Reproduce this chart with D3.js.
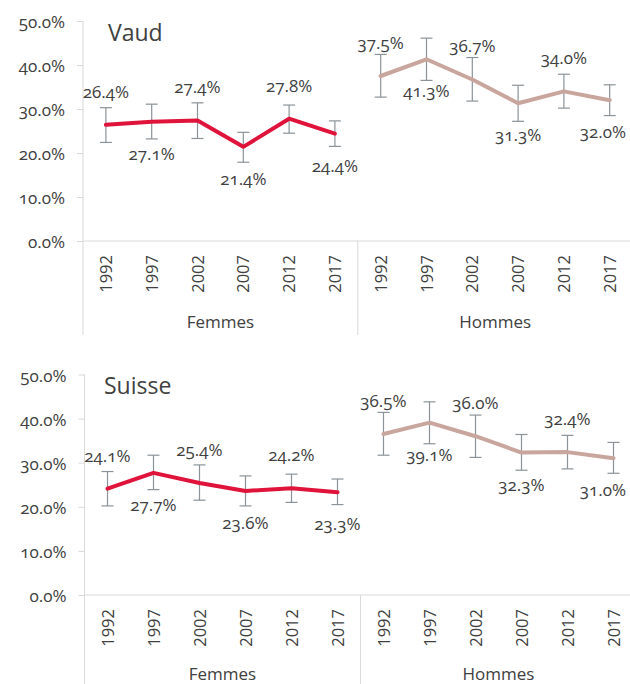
<!DOCTYPE html>
<html>
<head>
<meta charset="utf-8">
<script src="https://cdn.jsdelivr.net/npm/d3@7"></script>
<style>
  body { margin: 0; background: #fff; }
  svg text { font-family: "Open Sans", sans-serif; fill: #404040; font-feature-settings: "onum"; }
</style>
</head>
<body>
<script>
// categories
const groups = ["Femmes", "Hommes"];
const years = ["1992", "1997", "2002", "2007", "2012", "2017"];
const yTicks = [0, 10, 20, 30, 40, 50];

// Vaud
const vaudFemmes = [26.4, 27.1, 27.4, 21.4, 27.8, 24.4];
const vaudFemmesLo = [22.4, 23.2, 23.3, 17.9, 24.5, 21.5];
const vaudFemmesHi = [30.3, 31.1, 31.4, 24.7, 30.9, 27.3];
const vaudHommes = [37.5, 41.3, 36.7, 31.3, 34.0, 32.0];
const vaudHommesLo = [32.7, 36.5, 31.8, 27.2, 30.2, 28.5];
const vaudHommesHi = [42.4, 46.1, 41.7, 35.4, 37.9, 35.5];

// Suisse
const suisseFemmes = [24.1, 27.7, 25.4, 23.6, 24.2, 23.3];
const suisseFemmesLo = [20.2, 23.9, 21.5, 20.2, 21.0, 20.5];
const suisseFemmesHi = [28.0, 31.7, 29.5, 27.0, 27.4, 26.3];
const suisseHommes = [36.5, 39.1, 36.0, 32.3, 32.4, 31.0];
const suisseHommesLo = [31.7, 34.3, 31.2, 28.3, 28.6, 27.6];
const suisseHommesHi = [41.4, 43.8, 40.8, 36.4, 36.2, 34.6];

const colors = { Femmes: "#e0133b", Hommes: "#c9a69d" };

const w = 630, h = 684;
const svg = d3.select("body").append("svg").attr("width", w).attr("height", h);

function series(vals, lo, hi) {
  return vals.map((v, i) => ({ year: years[i], v: v, lo: lo[i], hi: hi[i] }));
}

const panels = [
  { title: "Vaud", top: 21, bottom: 241, x0: 83, x1: 632.6, axisEnd: 335, titleX: 108, titleY: 41, grpDy: 87,
    data: { Femmes: series(vaudFemmes, vaudFemmesLo, vaudFemmesHi), Hommes: series(vaudHommes, vaudHommesLo, vaudHommesHi) } },
  { title: "Suisse", top: 374.5, bottom: 595, x0: 84.5, x1: 636.5, axisEnd: 684, titleX: 104, titleY: 394, grpDy: 85,
    data: { Femmes: series(suisseFemmes, suisseFemmesLo, suisseFemmesHi), Hommes: series(suisseHommes, suisseHommesLo, suisseHommesHi) } }
];

panels.forEach(p => {
  const g = svg.append("g");

  const y = d3.scaleLinear().domain([0, 50]).range([p.bottom, p.top]);
  const xGroup = d3.scaleBand().domain(groups).range([p.x0, p.x1]);
  const x = d3.scaleBand().domain(years).range([0, xGroup.bandwidth()]);

  // y axis
  const yAxis = d3.axisLeft(y).tickValues(yTicks).tickSize(6).tickPadding(12)
    .tickFormat(d => d3.format(".1f")(d) + "%");
  const ya = g.append("g").attr("transform", "translate(" + p.x0 + ",0)").call(yAxis);
  ya.select(".domain").remove();
  ya.selectAll("line").attr("stroke", "#d9d9d9");
  ya.selectAll("text").style("font-size", "17px").style("fill", "#404040").attr("dy", "0.4em");
  g.append("line").attr("x1", p.x0).attr("x2", p.x0).attr("y1", p.top).attr("y2", p.axisEnd)
    .attr("stroke", "#d9d9d9");

  // x axis line
  g.append("line").attr("x1", p.x0).attr("x2", w).attr("y1", p.bottom).attr("y2", p.bottom)
    .attr("stroke", "#d9d9d9");
  // group divider
  g.append("line").attr("x1", xGroup("Hommes")).attr("x2", xGroup("Hommes"))
    .attr("y1", p.bottom).attr("y2", p.axisEnd).attr("stroke", "#d9d9d9");

  // title
  g.append("text").attr("x", p.titleX).attr("y", p.titleY).text(p.title)
    .style("font-size", "23px");

  groups.forEach(grp => {
    const gx = xGroup(grp);
    const d = p.data[grp];
    const cx = yr => gx + x(yr) + x.bandwidth() / 2;

    // year labels
    g.selectAll(null).data(years).enter().append("text")
      .attr("transform", yr => "translate(" + (cx(yr) + 6) + "," + (p.bottom + 14) + ") rotate(-90)")
      .attr("text-anchor", "end")
      .style("font-size", "16.5px")
      .style("font-feature-settings", "normal")
      .text(yr => yr);

    // group label
    g.append("text").attr("x", gx + xGroup.bandwidth() / 2).attr("y", p.bottom + p.grpDy)
      .attr("text-anchor", "middle").style("font-size", "17px").text(grp);

    // error bars
    const eb = g.append("g").attr("stroke", "#8a9399").attr("stroke-width", 1.2);
    eb.selectAll(null).data(d).enter().append("line")
      .attr("x1", e => cx(e.year)).attr("x2", e => cx(e.year))
      .attr("y1", e => y(e.lo)).attr("y2", e => y(e.hi));
    ["lo", "hi"].forEach(k => {
      eb.selectAll(null).data(d).enter().append("line")
        .attr("x1", e => cx(e.year) - 6).attr("x2", e => cx(e.year) + 6)
        .attr("y1", e => y(e[k])).attr("y2", e => y(e[k]));
    });

    // line
    const line = d3.line().x(e => cx(e.year)).y(e => y(e.v));
    g.append("path").datum(d).attr("d", line).attr("fill", "none")
      .attr("stroke", colors[grp]).attr("stroke-width", 4).attr("stroke-linejoin", "round")
      .attr("stroke-linecap", "round");

    // data labels: alternate above / below
    g.selectAll(null).data(d).enter().append("text")
      .attr("x", e => Math.min(cx(e.year), w - 27))
      .attr("y", (e, i) => y(e.v) + (i % 2 === 0 ? -33 : 32))
      .attr("dy", "0.35em")
      .attr("text-anchor", "middle")
      .style("font-size", "17px")
      .text(e => e.v.toFixed(1) + "%");
  });
});
</script>
</body>
</html>
